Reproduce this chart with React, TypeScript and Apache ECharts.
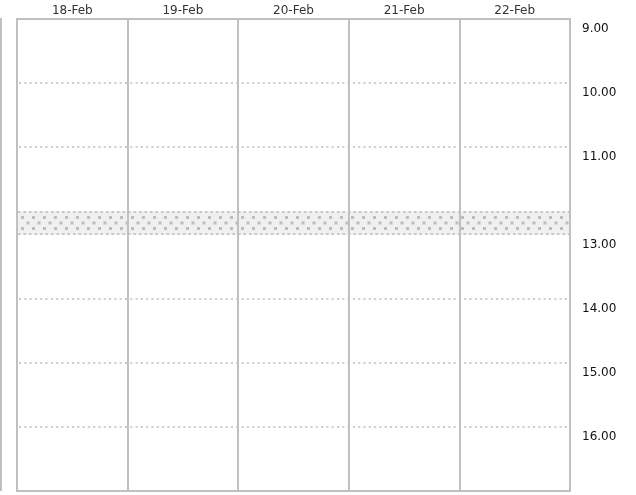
import React, { useEffect, useRef } from "react";
import * as echarts from "echarts";

const days = ["18-Feb", "19-Feb", "20-Feb", "21-Feb", "22-Feb"];
const hourLabels = ["9.00", "10.00", "11.00", "13.00", "14.00", "15.00", "16.00"];
// row start positions in compressed "slot" units (lunch hour squeezed)
const rowStarts = [0, 1, 2, 3.375, 4.375, 5.375, 6.375];
const breakStart = 3;
const breakEnd = 3.375;
const dayEnd = 7.375;

const FONT = "'DejaVu Sans', Verdana, sans-serif";

export default function App() {
  const ref = useRef<HTMLDivElement>(null);
  useEffect(() => {
    if (!ref.current) return;
    const chart = echarts.init(ref.current, null, { renderer: "svg" });
    const option: any = {
      animation: false,
      grid: {
        left: 17,
        right: 66,
        top: 19,
        bottom: 4,
        show: true,
        borderColor: "#c0c0c0",
        borderWidth: 2,
        backgroundColor: "transparent",
        z: 6,
      },
      graphic: [
        {
          type: "line",
          shape: { x1: 1, y1: 18, x2: 1, y2: 491 },
          style: { stroke: "#c0c0c0", lineWidth: 2 },
        },
      ],
      xAxis: {
        type: "category",
        data: days,
        position: "top",
        boundaryGap: true,
        z: 6,
        axisLine: { show: false },
        axisTick: { show: false },
        axisLabel: { color: "#333", fontSize: 12, fontFamily: FONT, margin: 3 },
        splitLine: { show: true, lineStyle: { color: "#c0c0c0", width: 2 } },
      },
      yAxis: {
        type: "value",
        inverse: true,
        min: 0,
        max: dayEnd,
        show: false,
        splitLine: { show: false },
      },
      series: [
        {
          type: "custom",
          name: "break",
          data: [[0, breakStart, breakEnd]],
          encode: { x: 0, y: [1, 2] },
          z: 2,
          renderItem: (params: any, api: any) => {
            const cs = params.coordSys;
            const y1 = api.coord([0, api.value(1)])[1];
            const y2 = api.coord([0, api.value(2)])[1];
            const x0 = cs.x + 1;
            const x1 = cs.x + cs.width - 1;
            const children: any[] = [
              {
                type: "rect",
                shape: { x: x0, y: y1, width: x1 - x0, height: y2 - y1 },
                style: { fill: "#f0f0f0" },
              },
              {
                type: "line",
                shape: { x1: x0, y1: y1 + 1, x2: x1, y2: y1 + 1 },
                style: { stroke: "#c8c8c8", lineWidth: 2, lineDash: [2.5, 3] },
              },
              {
                type: "line",
                shape: { x1: x0, y1: y2 - 1, x2: x1, y2: y2 - 1 },
                style: { stroke: "#c8c8c8", lineWidth: 2, lineDash: [2.5, 3] },
              },
            ];
            const h = y2 - y1;
            const rows = [h * 0.27, h * 0.5, h * 0.73];
            rows.forEach((dy, ri) => {
              const off = ri % 2 === 0 ? 3 : 8.5;
              for (let x = x0 + off; x < x1 - 2; x += 11) {
                children.push({
                  type: "rect",
                  shape: { x: x, y: y1 + dy - 1.5, width: 3, height: 3 },
                  style: { fill: "#bdbdbd" },
                });
              }
            });
            return { type: "group", children };
          },
        },
        {
          type: "custom",
          name: "hours",
          data: rowStarts.map((r) => [0, r]),
          encode: { x: 0, y: 1 },
          z: 3,
          clip: false,
          renderItem: (params: any, api: any) => {
            const cs = params.coordSys;
            const y = api.coord([0, api.value(1)])[1];
            const children: any[] = [];
            const idx = params.dataIndex;
            if (idx > 0 && api.value(1) !== breakEnd) {
              children.push({
                type: "line",
                shape: { x1: cs.x + 2, y1: y, x2: cs.x + cs.width - 1, y2: y },
                style: { stroke: "#cccccc", lineWidth: 2, lineDash: [2, 3.3] },
              });
            }
            children.push({
              type: "text",
              x: cs.x + cs.width + 12,
              y: y + 8.5,
              style: {
                text: hourLabels[idx],
                fill: "#111",
                fontSize: 12,
                fontFamily: FONT,
                align: "left",
                verticalAlign: "middle",
              },
            });
            return { type: "group", children };
          },
        },
      ],
    };
    chart.setOption(option);
    return () => chart.dispose();
  }, []);
  return (
    <div
      ref={ref}
      style={{ position: "fixed", left: 0, top: 0, width: 636, height: 495 }}
    />
  );
}
